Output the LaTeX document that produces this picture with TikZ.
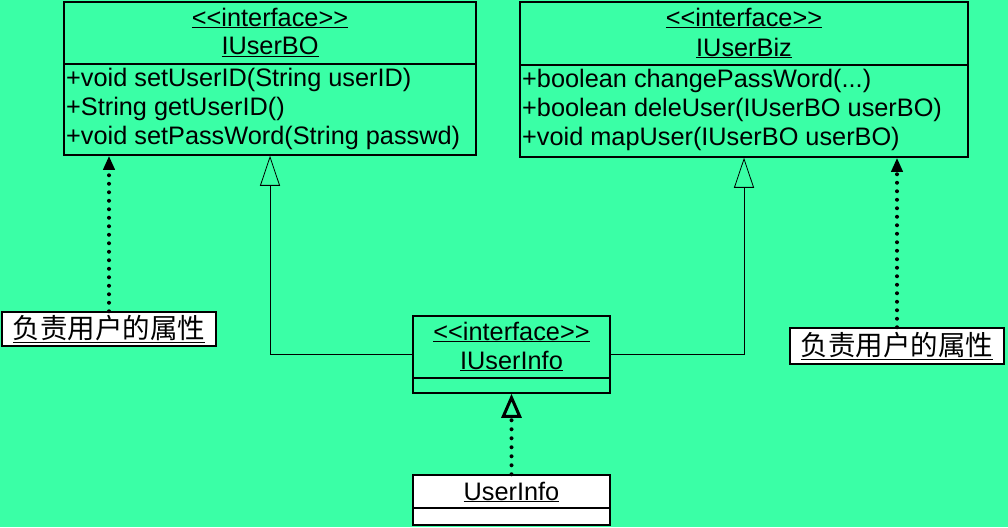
\documentclass[tikz,border=0pt]{standalone}
\usepackage{fontspec}
\setmainfont{Liberation Sans}
\newfontfamily\cjk{Noto Sans CJK SC}
\usetikzlibrary{arrows.meta}
\definecolor{bggreen}{RGB}{58,255,166}
\tikzset{
  classbox/.style={draw, line width=1.5pt, rectangle, inner sep=0pt},
  notebox/.style={draw, line width=1.5pt, fill=white, rectangle, inner sep=0pt},
  uml/.style={font=\fontsize{25.3}{29}\selectfont, inner sep=0pt},
  genarrow/.style={line width=0.8pt, -{Triangle[open, length=30pt, width=20pt]}},
  realarrow/.style={line width=4pt, line cap=round, dash pattern=on 0pt off 9pt,
    -{Triangle[open, length=24pt, width=20pt, line width=3pt]}},
  notearrow/.style={line width=4pt, line cap=round, dash pattern=on 0pt off 8.5pt,
    -{Triangle[length=14pt, width=11pt]}},
}
\begin{document}
\begin{tikzpicture}[x=1pt, y=-1pt]
  \useasboundingbox[fill=bggreen] (0,0) rectangle (1008,527);

  % class boxes
  \node[classbox, minimum width=412pt, minimum height=153pt] (bo) at (270,78.5) {};
  \node[classbox, minimum width=448pt, minimum height=155pt] (biz) at (744,79.5) {};
  \node[classbox, minimum width=197pt, minimum height=77pt] (info) at (511.5,354.5) {};
  \node[classbox, fill=white, minimum width=197pt, minimum height=50pt] (user) at (511.5,500) {};

  % compartment lines
  \draw[line width=1.5pt] (bo.west |- 0,64) -- (bo.east |- 0,64);
  \draw[line width=1.5pt] (biz.west |- 0,65) -- (biz.east |- 0,65);
  \draw[line width=1.2pt] (info.west |- 0,378) -- (info.east |- 0,378);
  \draw[line width=1.2pt] (user.west |- 0,508) -- (user.east |- 0,508);

  % headers
  \node[uml] (boStereo) at (270,18) {\underline{<{}<interface>{}>}};
  \node[uml] (boName) at (270,47) {\underline{IUserBO}};
  \node[uml] (bizStereo) at (744,18) {\underline{<{}<interface>{}>}};
  \node[uml] (bizName) at (744,48) {\underline{IUserBiz}};
  \node[uml] (infoStereo) at (511.5,332) {\underline{<{}<interface>{}>}};
  \node[uml] (infoName) at (511.5,361) {\underline{IUserInfo}};
  \node[uml] (userName) at (511.5,492) {\underline{UserInfo}};

  % operations
  \foreach \i/\op in {0/{+void setUserID(String userID)}, 1/{+String getUserID()}, 2/{+void setPassWord(String passwd)}} {
    \node[uml, anchor=west] (boOp\i) at (66,{80+29*\i}) {\op};
  }
  \foreach \i/\op in {0/{+boolean changePassWord(...)}, 1/{+boolean deleUser(IUserBO userBO)}, 2/{+void mapUser(IUserBO userBO)}} {
    \node[uml, anchor=west] (bizOp\i) at (522,{81+29*\i}) {\op};
  }

  % notes
  \node[notebox, minimum width=214pt, minimum height=34pt] (noteL) at (109,329)
    {\cjk\fontsize{27.5}{29}\selectfont\underline{负责用户的属性}};
  \node[notebox, minimum width=214pt, minimum height=36pt] (noteR) at (897,346)
    {\cjk\fontsize{27.5}{29}\selectfont\underline{负责用户的属性}};

  % generalization
  \draw[genarrow] (info.west) -| (bo.south);
  \draw[genarrow] (info.east) -| (biz.south);

  % realization
  \draw[realarrow] (user.north) -- (info.south);

  % note links
  \draw[notearrow] (noteL.north) -- (noteL.north |- bo.south);
  \draw[notearrow] (noteR.north) -- (noteR.north |- biz.south);
\end{tikzpicture}
\end{document}
